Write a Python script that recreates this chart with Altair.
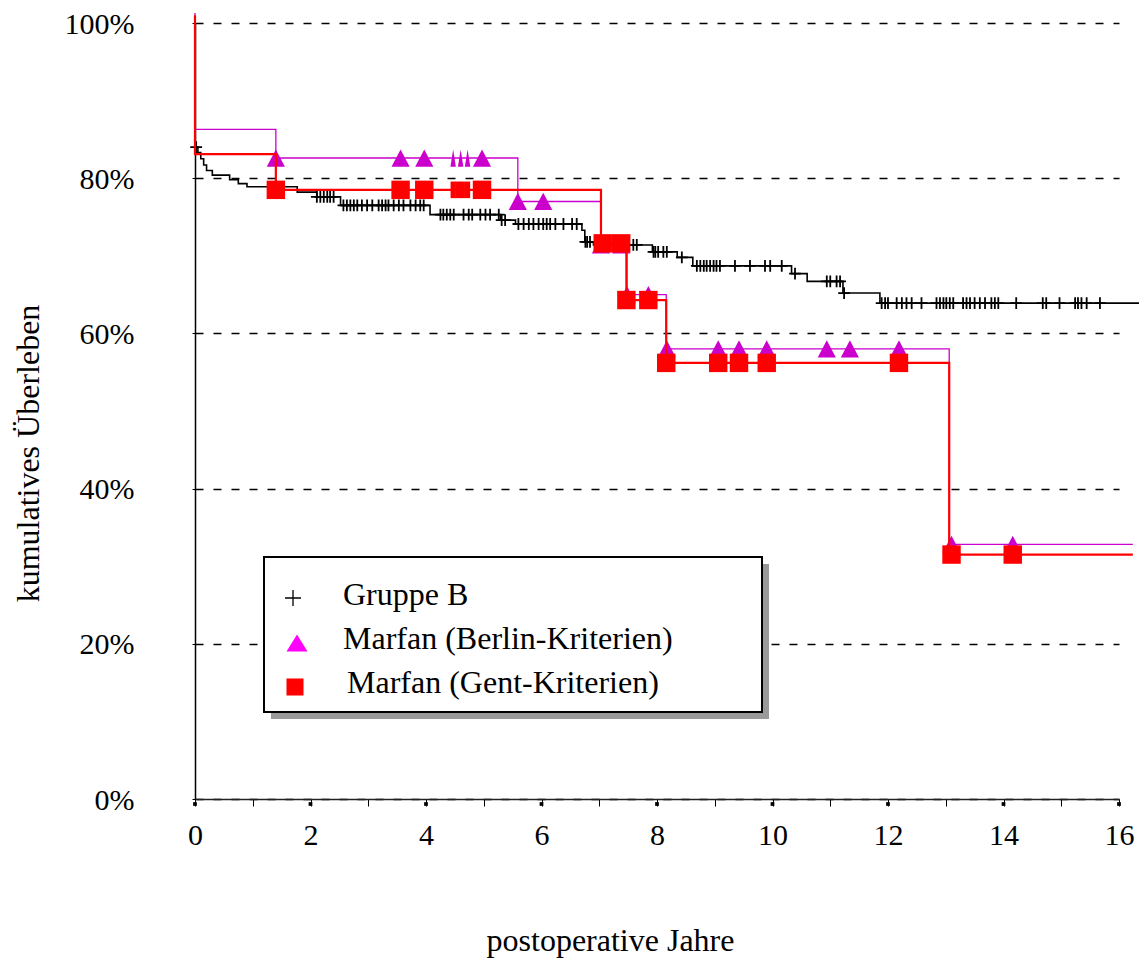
import altair as alt
import pandas as pd

# ---------------- data ----------------
# Gruppe B: Kaplan-Meier steps (years, % survival)
b_t = [0, 0, 0.05, 0.10, 0.15, 0.20, 0.30, 0.60, 0.75, 0.90, 1.77, 2.11, 2.52, 4.07, 5.29, 5.55,
       6.70, 6.75, 6.90, 7.92, 8.35, 8.62, 10.33, 10.60, 11.22, 11.86, 16.40]
b_s = [100, 84.0, 83.3, 82.5, 81.7, 81.0, 80.4, 79.8, 79.3, 78.9, 78.2, 77.6, 76.5, 75.3, 74.6, 74.1,
       73.3, 71.8, 71.4, 70.5, 69.8, 68.7, 67.7, 66.7, 65.2, 63.9, 63.9]
b_cens = [0.02, 2.11, 2.17, 2.23, 2.29, 2.34, 2.40, 2.57, 2.63, 2.69, 2.75, 2.81, 2.89, 2.98, 3.07,
          3.18, 3.24, 3.30, 3.35, 3.44, 3.53, 3.61, 3.73, 3.82, 3.90, 3.96, 4.25, 4.30, 4.36, 4.42,
          4.48, 4.65, 4.74, 4.80, 4.94, 5.03, 5.11, 5.26, 5.31, 5.37, 5.60, 5.69, 5.78, 5.86, 5.95,
          6.03, 6.09, 6.15, 6.24, 6.38, 6.53, 6.61, 6.76, 6.79, 6.84, 7.59, 7.65, 7.94, 7.97, 8.02,
          8.11, 8.17, 8.43, 8.69, 8.75, 8.81, 8.86, 8.92, 8.98, 9.03, 9.09, 9.35, 9.61, 9.87, 9.96,
          10.16, 10.39, 10.94, 11.00, 11.11, 11.17, 11.24, 11.89, 11.95, 12.00, 12.15, 12.24, 12.32,
          12.41, 12.58, 12.84, 12.90, 12.96, 13.01, 13.07, 13.13, 13.30, 13.36, 13.42, 13.50, 13.59,
          13.68, 13.79, 13.85, 13.91, 14.22, 14.68, 14.74, 14.97, 15.24, 15.29, 15.35, 15.44, 15.67]

# Marfan (Berlin-Kriterien)
m_t = [0, 0, 1.40, 5.59, 7.03, 7.48, 8.16, 13.06, 16.24]
m_s = [101.3, 86.3, 82.6, 77.0, 71.4, 65.0, 58.0, 32.8, 32.8]
m_cens = [1.40, 3.56, 3.97, 4.97, 5.59, 6.03, 7.03, 7.38, 7.48, 7.85, 8.17, 9.06, 9.42, 9.90,
          10.94, 11.34, 12.19, 13.10, 14.16]
m_cens_small = [4.47, 4.60, 4.72]

# Marfan (Gent-Kriterien)
g_t = [0, 0, 1.40, 7.03, 7.47, 8.16, 13.06, 16.24]
g_s = [101.0, 83.1, 78.5, 71.6, 64.3, 56.2, 31.5, 31.5]
g_cens = [1.40, 3.56, 3.97, 4.97, 7.06, 7.38, 7.47, 7.85, 8.16, 9.06, 9.42, 9.90, 12.19, 13.10, 14.16]
g_cens_small = [4.47, 4.55, 4.63, 4.72]

x_ticks = list(range(0, 17))
x_label_ticks = [0, 2, 4, 6, 8, 10, 12, 14, 16]
y_ticks = [0, 20, 40, 60, 80, 100]

series_names = ["Gruppe B", "Marfan (Berlin-Kriterien)", "Marfan (Gent-Kriterien)"]

FONT = "Liberation Serif"
MAGENTA = "#CC00CC"
RED = "#FF0000"


def steps_df(ts, ss):
    return pd.DataFrame({"t": ts, "s": ss, "i": list(range(len(ts)))})


def level(ts, ss, t):
    v = ss[0]
    for ti, si in zip(ts, ss):
        if ti <= t:
            v = si
    return v


def cens_df(times, ts, ss):
    return pd.DataFrame({"t": times, "s": [level(ts, ss, t) for t in times]})


X = alt.X("t:Q", scale=alt.Scale(domain=[0, 16], nice=False, zero=False),
          axis=alt.Axis(values=x_ticks, title="postoperative Jahre",
                        labelExpr="datum.value % 2 == 0 ? datum.label : ''",
                        grid=False, tickSize=7, tickColor="black", tickWidth=1,
                        domainColor="#222", domainWidth=1.5,
                        labelFont=FONT, labelFontSize=30, labelColor="black",
                        labelBaseline="alphabetic", labelPadding=38, labelFlush=False,
                        labelOverlap=False,
                        titleFont=FONT, titleFontSize=32, titleFontWeight="normal",
                        titleColor="black", titleX=415, titleY=151,
                        titleAlign="center", titleBaseline="alphabetic", titleAngle=0))
Y = alt.Y("s:Q", scale=alt.Scale(domain=[0, 100], nice=False, zero=True),
          axis=alt.Axis(values=y_ticks, title="kumulatives Überleben",
                        labelExpr="datum.value + '%'",
                        grid=True, gridDash=[8, 10], gridColor="black", gridWidth=1.3,
                        tickSize=3, tickColor="black",
                        domainColor="black", domainWidth=1.5,
                        labelFont=FONT, labelFontSize=30, labelColor="black",
                        labelBaseline="alphabetic", labelOffset=10, labelPadding=58,
                        titleFont=FONT, titleFontSize=32, titleFontWeight="normal",
                        titleColor="black", titleX=-157, titleY=430,
                        titleAlign="center", titleBaseline="alphabetic", titleAngle=270))

PLUS = "M-1,0H1M0,-1V1"
TRI = "M0,-0.95L1,0.95H-1Z"
TRI_SMALL = "M0,-0.95L0.3,0.95H-0.3Z"
SQ_SMALL = "M-0.28,-0.9H0.28V0.9H-0.28Z"

b_line = alt.Chart(steps_df(b_t, b_s)).mark_line(
    interpolate="step-after", color="black", strokeWidth=1.6, clip=False
).encode(x=X, y=Y, order="i:Q")
b_pts = alt.Chart(cens_df(b_cens, b_t, b_s)).mark_point(
    shape=PLUS, size=140, filled=False, color="black", strokeWidth=1.8, opacity=1
).encode(x=X, y=Y)

m_line = alt.Chart(steps_df(m_t, m_s)).mark_line(
    interpolate="step-after", color=MAGENTA, strokeWidth=1.3
).encode(x=X, y=Y, order="i:Q")
m_pts = alt.Chart(cens_df(m_cens, m_t, m_s)).mark_point(
    shape=TRI, size=330, filled=True, color=MAGENTA, opacity=1, strokeWidth=0
).encode(x=X, y=Y)
m_pts_s = alt.Chart(cens_df(m_cens_small, m_t, m_s)).mark_point(
    shape=TRI_SMALL, size=330, filled=True, color=MAGENTA, opacity=1, strokeWidth=0
).encode(x=X, y=Y)

g_line = alt.Chart(steps_df(g_t, g_s)).mark_line(
    interpolate="step-after", color=RED, strokeWidth=2.2
).encode(x=X, y=Y, order="i:Q")
g_pts = alt.Chart(cens_df(g_cens, g_t, g_s)).mark_point(
    shape="square", size=340, filled=True, color=RED, opacity=1, strokeWidth=0
).encode(x=X, y=Y)
g_pts_s = alt.Chart(cens_df(g_cens_small, g_t, g_s)).mark_point(
    shape=SQ_SMALL, size=340, filled=True, color=RED, opacity=1, strokeWidth=0
).encode(x=X, y=Y)

# small dots under the major x ticks
dots = alt.Chart(pd.DataFrame({"t": x_label_ticks, "s": [0] * len(x_label_ticks)})).mark_point(
    shape="square", size=14, filled=True, color="black", opacity=1, yOffset=5
).encode(x=X, y=Y)

# ---- legend box (decoration) ----
one = pd.DataFrame({"a": [0]})
shadow = alt.Chart(one).mark_rect(color="#9a9a9a").encode(
    x=alt.value(76), x2=alt.value(574), y=alt.value(541), y2=alt.value(696))
box = alt.Chart(one).mark_rect(fill="white", stroke="black", strokeWidth=2).encode(
    x=alt.value(69), x2=alt.value(567), y=alt.value(534), y2=alt.value(689))
leg_plus = alt.Chart(one).mark_point(shape=PLUS, size=256, filled=False, color="black",
                                     strokeWidth=1.3, opacity=1).encode(
    x=alt.value(98), y=alt.value(575))
leg_tri = alt.Chart(one).mark_point(shape="M0,-0.8L1,0.8H-1Z", size=441, filled=True,
                                    color="#FF00FF", opacity=1, strokeWidth=0).encode(
    x=alt.value(102), y=alt.value(620))
leg_sq = alt.Chart(one).mark_point(shape="square", size=290, filled=True, color=RED,
                                   opacity=1, strokeWidth=0).encode(
    x=alt.value(100), y=alt.value(664))
leg_texts = []
for name, xx, yy in zip(series_names, [148, 148, 152], [582, 626, 670]):
    leg_texts.append(alt.Chart(one).mark_text(
        align="left", baseline="alphabetic", font=FONT, fontSize=32, color="black"
    ).encode(x=alt.value(xx), y=alt.value(yy), text=alt.value(name)))

chart = alt.layer(
    b_line, b_pts, m_line, m_pts, m_pts_s, g_line, g_pts, g_pts_s, dots,
    shadow, box, leg_plus, leg_tri, leg_sq, *leg_texts
).properties(
    width=924, height=776,
    autosize=alt.AutoSizeParams(type="none"),
    padding={"left": 187, "top": 15, "right": 20, "bottom": 160},
    background="white",
).configure_view(strokeWidth=0)

chart.save("out.html", embed_options={"renderer": "svg", "actions": False})
